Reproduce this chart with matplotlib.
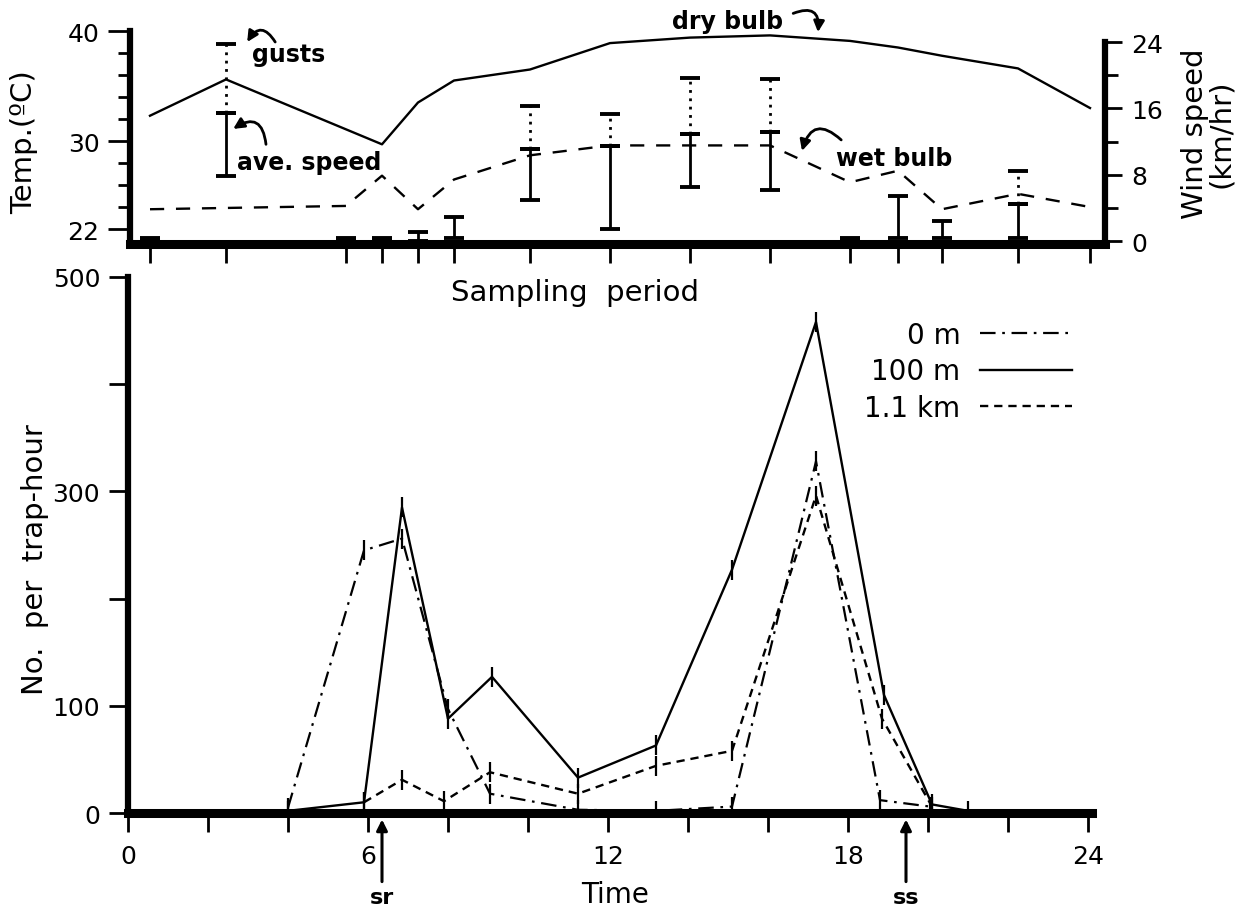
import matplotlib.pyplot as plt

plt.rcParams['font.family'] = ['DejaVu Sans']

# ---- top panel: air temperature (deg C) ----
dry_time = [0.5, 2.4, 6.3, 7.2, 8.1, 10, 12, 14, 16, 18, 19.2, 20.3, 22.2, 24]
dry_bulb = [32.3, 35.6, 29.7, 33.5, 35.5, 36.5, 38.9, 39.4, 39.6, 39.1, 38.5, 37.75, 36.6, 33.0]
wet_time = [0.5, 5.4, 6.3, 7.2, 8.1, 10, 12, 14, 16, 18, 19.2, 20.3, 22.2, 24]
wet_bulb = [23.8, 24.1, 26.85, 23.8, 26.5, 28.7, 29.6, 29.6, 29.6, 26.25, 27.3, 23.8, 25.2, 24.0]

# wind speed (km/hr): range of average speed, and gusts
wind_time = [0.5, 2.4, 5.4, 6.3, 7.2, 8.1, 10, 12, 14, 16, 18, 19.2, 20.3, 22.2]
wind_low = [0, 7.9, 0, 0, 0, 0.4, 4.9, 1.45, 6.5, 6.1, 0, 0.4, 0.4, 0.4]
wind_high = [0.4, 15.5, 0.4, 0.4, 1.1, 2.85, 11.1, 11.5, 12.9, 13.1, 0.4, 5.4, 2.45, 4.5]
gust_time = [2.4, 10, 12, 14, 16, 22.2]
gust_base = [15.5, 11.1, 11.5, 12.9, 13.1, 4.5]
gust_top = [23.8, 16.3, 15.3, 19.7, 19.5, 8.4]
sampling_ticks = [0.5, 2.4, 5.4, 6.3, 7.2, 8.1, 10, 12, 14, 16, 18, 19.2, 20.3, 22.2, 24]

# ---- bottom panel: catch per trap-hour ----
time_0m = [4, 5.9, 6.85, 8, 9.05, 11.25, 13.2, 15.1, 17.2, 18.8, 20.05]
catch_0m = [5, 245, 256, 97, 18, 3, 2, 6, 328, 12, 6]
time_100m = [4, 5.9, 6.85, 8, 9.1, 11.25, 13.2, 15.1, 17.2, 18.9, 20.1, 21]
catch_100m = [2, 10, 285, 88, 127, 33, 63, 227, 458, 110, 8, 2]
time_1km = [5.9, 6.85, 7.9, 9.05, 11.25, 13.2, 15.1, 17.2, 18.85, 20.1]
catch_1km = [10, 31, 11, 38, 18, 44, 58, 296, 88, 6]

temp_major = [22, 30, 40]
temp_minor = [24, 26, 28, 32, 34, 36, 38]
wind_major = [0, 8, 16, 24]
wind_minor = [4, 12, 20]
catch_ticks = [0, 100, 200, 300, 400, 500]
catch_labels = ['0', '100', '', '300', '', '500']
hour_major = [0, 6, 12, 18, 24]
hour_minor = [2, 4, 8, 10, 14, 16, 20, 22]
sun_events = [(6.35, 'sr'), (19.45, 'ss')]

W, H = 1243, 912
fig = plt.figure(figsize=(W / 100, H / 100), dpi=100)


def box(x0, y0, x1, y1):
    return [x0 / W, 1 - y1 / H, (x1 - x0) / W, (y1 - y0) / H]


FS = 18
BOLD = dict(fontsize=17, fontweight='bold')
arrow = dict(arrowstyle='-|>', lw=2, color='k', mutation_scale=16, shrinkA=0, shrinkB=0)

# ================= top panel =================
ax_t = fig.add_axes(box(130, 32, 1105, 245))
ax_w = ax_t.twinx()

ax_t.plot(dry_time, dry_bulb, color='k', lw=1.7)
ax_t.plot(wet_time, wet_bulb, color='k', lw=1.7, dashes=(6, 5))
ax_t.set_xlim(0, 24.375)
ax_t.set_ylim(20.64, 40)

mid = [(a + b) / 2 for a, b in zip(wind_low, wind_high)]
half = [(b - a) / 2 for a, b in zip(wind_low, wind_high)]
ax_w.errorbar(wind_time, mid, yerr=half, fmt='none', ecolor='k',
              elinewidth=2, capsize=7, capthick=2.8)
eg = ax_w.errorbar(gust_time, gust_top,
                   yerr=[[t - b for t, b in zip(gust_top, gust_base)], [0] * len(gust_top)],
                   fmt='none', ecolor='k', elinewidth=2, capsize=7, capthick=2.8)
eg[2][0].set_linestyle((0, (1, 2)))
ax_w.set_ylim(-0.36, 25.33)

ax_t.spines['top'].set_visible(False)
ax_w.spines['top'].set_visible(False)
ax_t.spines['right'].set_visible(False)
ax_w.spines['left'].set_visible(False)
ax_w.spines['bottom'].set_visible(False)
ax_t.spines['left'].set_linewidth(4.5)
ax_t.spines['bottom'].set_linewidth(6.5)
ax_w.spines['right'].set_linewidth(4.5)
ax_w.spines['right'].set_bounds(-0.36, 24)

ax_t.set_xticks(sampling_ticks)
ax_t.set_xticklabels([])
ax_t.tick_params(axis='x', direction='out', length=14, width=2)
ax_t.set_yticks(temp_major)
ax_t.set_yticks(temp_minor, minor=True)
ax_t.set_yticklabels([str(v) for v in temp_major], fontsize=FS)
ax_t.tick_params(axis='y', which='major', direction='out', length=16, width=2, pad=6)
ax_t.tick_params(axis='y', which='minor', direction='out', length=9, width=2)
ax_w.set_yticks(wind_major)
ax_w.set_yticks(wind_minor, minor=True)
ax_w.set_yticklabels([str(v) for v in wind_major], fontsize=FS)
ax_w.tick_params(axis='y', which='major', direction='out', length=12, width=2, pad=7)
ax_w.tick_params(axis='y', which='minor', direction='out', length=9, width=2)

fig.text(24 / W, 1 - 142 / H, 'Temp.(ºC)', rotation=90, ha='center', va='center', fontsize=21)
fig.text(1208 / W, 1 - 134 / H, 'Wind speed\n(km/hr)', rotation=90, ha='center', va='center',
         fontsize=21, linespacing=0.95)

ax_t.text(3.05, 37.9, 'gusts', va='center', **BOLD)
ax_t.annotate('', xy=(2.93, 39.0), xytext=(3.63, 39.0),
              arrowprops=dict(arrow, connectionstyle='arc3,rad=0.8'), annotation_clip=False)
ax_t.text(2.68, 28.1, 'ave. speed', va='center', **BOLD)
ax_t.annotate('', xy=(2.58, 31.1), xytext=(3.4, 29.7),
              arrowprops=dict(arrow, connectionstyle='arc3,rad=0.8'), annotation_clip=False)
ax_t.text(13.55, 40.9, 'dry bulb', va='center', **BOLD)
ax_t.annotate('', xy=(17.2, 39.9), xytext=(16.58, 41.6),
              arrowprops=dict(arrow, connectionstyle='arc3,rad=-0.8'), annotation_clip=False)
ax_t.text(17.65, 28.45, 'wet bulb', va='center', **BOLD)
ax_t.annotate('', xy=(16.8, 29.1), xytext=(17.78, 30.1),
              arrowprops=dict(arrow, connectionstyle='arc3,rad=0.8'), annotation_clip=False)

# ================= bottom panel =================
ax_b = fig.add_axes(box(128, 278, 1088, 814))
mk = dict(marker='|', markersize=14, markeredgewidth=1.6, color='k')
ax_b.plot(time_0m, catch_0m, lw=1.6, dashes=(7, 3, 1.2, 3), label='0 m', **mk)
ax_b.plot(time_100m, catch_100m, lw=1.7, label='100 m', **mk)
ax_b.plot(time_1km, catch_1km, lw=1.7, dashes=(3.5, 2.5), label='1.1 km', **mk)
ax_b.set_xlim(0, 24)
ax_b.set_ylim(0, 500)

ax_b.spines['top'].set_visible(False)
ax_b.spines['right'].set_visible(False)
ax_b.spines['left'].set_linewidth(4.5)
ax_b.spines['bottom'].set_linewidth(6.5)
ax_b.spines['bottom'].set_bounds(0, 24.1)
ax_b.set_xticks(hour_major)
ax_b.set_xticks(hour_minor, minor=True)
ax_b.set_xticklabels([str(v) for v in hour_major], fontsize=FS)
ax_b.tick_params(axis='x', which='both', direction='out', length=14, width=2, pad=8)
ax_b.set_yticks(catch_ticks)
ax_b.set_yticklabels(catch_labels, fontsize=FS)
ax_b.tick_params(axis='y', direction='out', length=14, width=2, pad=6)

ax_b.text(11.18, 486, 'Sampling  period', fontsize=21, ha='center', va='center')
fig.text(35 / W, 1 - 560 / H, 'No.  per  trap-hour', rotation=90, ha='center', va='center', fontsize=21)
fig.text(615 / W, 1 - 895 / H, 'Time', ha='center', va='center', fontsize=20)

for t, lab in sun_events:
    ax_b.annotate('', xy=(t, -6), xytext=(t, -64), arrowprops=dict(arrow, lw=2.2),
                  annotation_clip=False)
    ax_b.text(t, -78, lab, ha='center', va='center', fontsize=16, fontweight='bold')

leg = ax_b.legend(loc='upper right', bbox_to_anchor=(0.983, 0.918), frameon=False, markerfirst=False,
                  fontsize=20, handlelength=3.3, handletextpad=0.7, labelspacing=0.3,
                  borderpad=0, borderaxespad=0)
for h in leg.legend_handles:
    h.set_marker('')

fig.savefig('out.png', dpi=100)
